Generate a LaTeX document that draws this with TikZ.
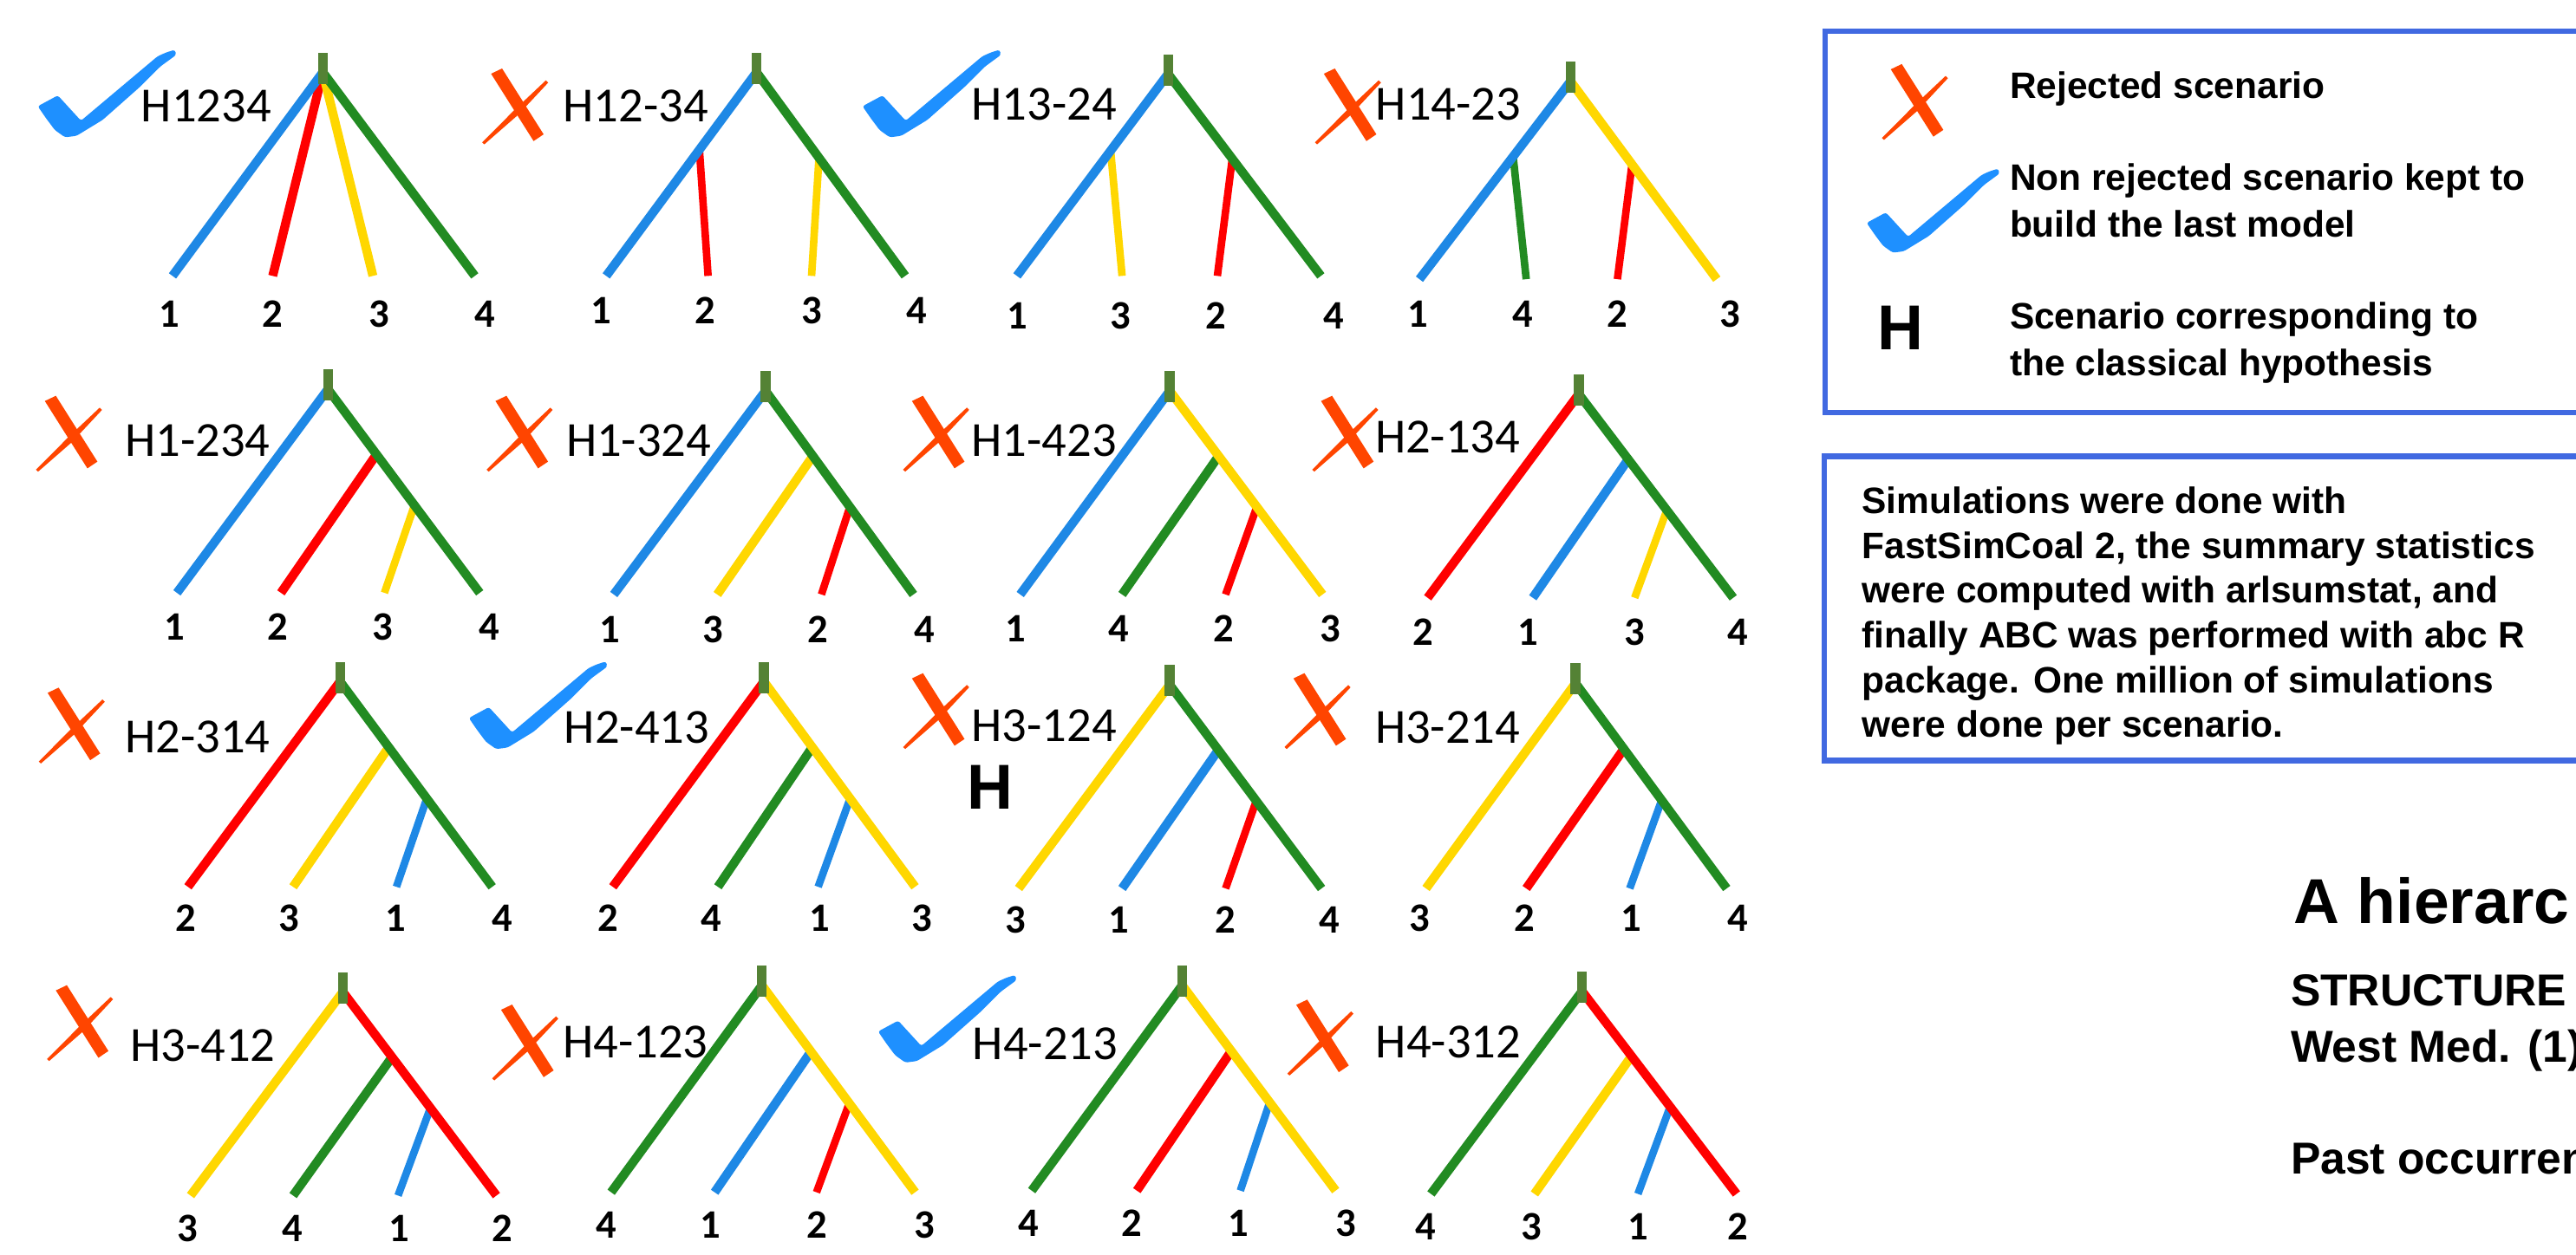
\documentclass[tikz,border=0pt]{standalone}
\usepackage{fontspec}
\usetikzlibrary{calc}
\newfontfamily\calfont{Carlito}
\newfontfamily\arfont{Liberation Sans}
\definecolor{lblue}{HTML}{1E88E5}
\definecolor{lred}{HTML}{FF0000}
\definecolor{lgold}{HTML}{FFD700}
\definecolor{lgreen}{HTML}{228B22}
\definecolor{stubc}{HTML}{548235}
\definecolor{xorange}{HTML}{FF4500}
\definecolor{checkblue}{HTML}{1E90FF}
\definecolor{boxblue}{HTML}{4169E1}
\tikzset{
  br/.style={line width=3.1pt},
  brin/.style={line width=2.6pt},
  scen/.style={font=\calfont\fontsize{17}{20}\selectfont, inner sep=0pt, anchor=base},
  leafnum/.style={font=\calfont\bfseries\fontsize{14}{16}\selectfont, inner sep=0pt, anchor=base},
  legtxt/.style={font=\arfont\bfseries\fontsize{12.75}{15}\selectfont, inner sep=0pt, anchor=base west},
  bigH/.style={font=\arfont\bfseries\fontsize{22}{26}\selectfont, inner sep=0pt, anchor=base},
  titletxt/.style={font=\arfont\bfseries\fontsize{22}{26}\selectfont, inner sep=0pt, anchor=base west},
  subtxt/.style={font=\arfont\bfseries\fontsize{15.5}{18}\selectfont, inner sep=0pt, anchor=base west},
  boxline/.style={draw=boxblue, line width=2pt},
  pics/xmark/.style={code={
    \fill[xorange] (5.4,3.2) -- (12.1,0) -- (37.4,40.1) -- (31.3,44.2) -- cycle;
    \fill[xorange] (38.8,7.2) -- (40.2,8.6) -- (21.8,28.3) -- (1.3,46.2) -- (0,45) -- (19.2,25.7) -- cycle;
  }},
  pics/checkmark/.style={code={
    \fill[checkblue, rounded corners=0.8pt] (83.4,0.3) -- (84.3,3.4) -- (74.6,10.5) -- (62.3,22.8)
      -- (39.5,43) -- (23.6,52.7) -- (16.6,53.6) -- (10.4,49.2) -- (5.1,42.1) -- (0,34.7)
      -- (12.2,28.1) -- (26.3,43.5) -- (72.9,4.3) -- (78,2) -- cycle;
  }},
}
\def\setcols#1/#2/#3/#4\relax{\def\colA{#1}\def\colB{#2}\def\colC{#3}\def\colD{#4}}
% caterpillar tree: prefix, root x, stub top, leaf y, xA, xB, xC, xD, colours
\def\cattree#1#2#3#4#5#6#7#8#9{%
  \setcols#9\relax
  \coordinate (#1r) at (#2,#3+12);
  \coordinate (#1a) at (#5,#4);
  \coordinate (#1b) at (#6,#4);
  \coordinate (#1c) at (#7,#4);
  \coordinate (#1d) at (#8,#4);
  \coordinate (#1j) at ($(#1r)!0.32!(#1d)$);
  \coordinate (#1k) at ($(#1r)!0.57!(#1d)$);
  \draw[br,draw=\colA] (#1r) -- (#1a);
  \draw[br,draw=\colB] (#1j) -- (#1b);
  \draw[brin,draw=\colC] (#1k) -- (#1c);
  \draw[br,draw=\colD] (#1r) -- (#1d);
  \fill[stubc] (#2-3,#3) rectangle (#2+3,#3+19);
}
% two-pair tree
\def\pairtree#1#2#3#4#5#6#7#8#9{%
  \setcols#9\relax
  \coordinate (#1r) at (#2,#3+12);
  \coordinate (#1a) at (#5,#4);
  \coordinate (#1b) at (#6,#4);
  \coordinate (#1c) at (#7,#4);
  \coordinate (#1d) at (#8,#4);
  \coordinate (#1j) at ($(#1r)!0.38!(#1a)$);
  \coordinate (#1k) at ($(#1r)!0.42!(#1d)$);
  \draw[brin,draw=\colB] (#1j) -- (#1b);
  \draw[brin,draw=\colC] (#1k) -- (#1c);
  \draw[br,draw=\colA] (#1r) -- (#1a);
  \draw[br,draw=\colD] (#1r) -- (#1d);
  \fill[stubc] (#2-3,#3) rectangle (#2+3,#3+19);
}
\def\leafnums#1#2#3{\foreach \lx/\ln in {#3} {\node[leafnum] (#1n\ln) at (\lx,#2) {\ln};}}
\begin{document}
\begin{tikzpicture}[x=0.02cm,y=-0.02cm]
\useasboundingbox (0,0) rectangle (1568,764);
\clip (0,0) rectangle (1568,764);
\fill[white] (0,0) rectangle (1568,764);

% ---- Row 1
\coordinate (t1r) at (196.5,44);
\coordinate (t1a) at (105,168);
\coordinate (t1b) at (166,168);
\coordinate (t1c) at (227,168);
\coordinate (t1d) at (289,168);
\draw[br,draw=lred] (t1r) -- (t1b);
\draw[br,draw=lgold] (t1r) -- (t1c);
\draw[br,draw=lblue] (t1r) -- (t1a);
\draw[br,draw=lgreen] (t1r) -- (t1d);
\fill[stubc] (193.5,32) rectangle (199.5,51);
\pairtree{t2}{460.5}{32}{168}{369}{431}{494}{551}{lblue/lred/lgold/lgreen}
\pairtree{t3}{711}{33}{168}{619}{683}{741}{804}{lblue/lgold/lred/lgreen}
\pairtree{t4}{956}{37.5}{170}{864}{929}{984.5}{1045}{lblue/lgreen/lred/lgold}

% ---- Row 2
\cattree{t5}{199.6}{225}{361}{107.7}{171}{234}{292}{lblue/lred/lgold/lgreen}
\cattree{t6}{466}{226}{362}{373.6}{436.6}{500}{556}{lblue/lgold/lred/lgreen}
\cattree{t7}{712}{226}{362}{621}{683}{746}{805}{lblue/lgreen/lred/lgold}
\cattree{t8}{961}{228}{364}{869}{933}{995}{1055}{lred/lblue/lgold/lgreen}

% ---- Row 3
\cattree{t9}{207}{403}{540}{114.4}{178.4}{241.3}{299.6}{lred/lgold/lblue/lgreen}
\cattree{t10}{465}{403}{540}{373}{437}{498}{557}{lred/lgreen/lblue/lgold}
\cattree{t11}{712}{405}{541}{620}{683}{746}{804.4}{lgold/lblue/lred/lgreen}
\cattree{t12}{959}{404}{541}{868}{929}{992}{1051}{lgold/lred/lblue/lgreen}

% ---- Row 4
\cattree{t13}{208.7}{592}{728}{116}{178.4}{242.3}{302.2}{lgold/lgreen/lblue/lred}
\cattree{t14}{463.8}{588}{726}{372}{435}{497}{557}{lgreen/lblue/lred/lgold}
\cattree{t15}{719.6}{588}{725}{628}{692}{755}{813}{lgreen/lred/lblue/lgold}
\cattree{t16}{963}{591.6}{727}{871}{934}{997}{1057}{lgreen/lgold/lblue/lred}

% ---- leaf numbers
\leafnums{t1}{199}{103/1,166/2,231/3,295/4}
\leafnums{t2}{197}{366/1,429/2,494/3,558/4}
\leafnums{t3}{200.5}{619/1,682/3,740/2,812/4}
\leafnums{t4}{199}{863/1,927/4,984.5/2,1053/3}
\leafnums{t5}{390}{106/1,169/2,233/3,298/4}
\leafnums{t6}{391.5}{371/1,434/3,498/2,563/4}
\leafnums{t7}{391}{618/1,681/4,745/2,810/3}
\leafnums{t8}{393}{866/2,930/1,995/3,1058/4}
\leafnums{t9}{567}{113/2,176/3,241/1,306/4}
\leafnums{t10}{567}{370/2,433/4,499/1,561/3}
\leafnums{t11}{568}{618/3,681/1,746/2,809/4}
\leafnums{t12}{567}{864/3,928/2,993/1,1058/4}
\leafnums{t13}{756}{114/3,178/4,243/1,306/2}
\leafnums{t14}{754}{369/4,432.5/1,497.5/2,563/3}
\leafnums{t15}{753}{626/4,689/2,754/1,819/3}
\leafnums{t16}{755}{868/4,932/3,997/1,1058/2}

% ---- scenario names
\node[scen] (s1) at (125.5,74.1) {H1234};
\node[scen] (s2) at (387,74.1) {H12-34};
\node[scen] (s3) at (635.5,73.3) {H13-24};
\node[scen] (s4) at (881.7,73.2) {H14-23};
\node[scen] (s5) at (120.3,277.8) {H1-234};
\node[scen] (s6) at (388.8,277.8) {H1-324};
\node[scen] (s7) at (635.5,277.8) {H1-423};
\node[scen] (s8) at (881.2,276) {H2-134};
\node[scen] (s9) at (120.3,458.1) {H2-314};
\node[scen] (s10) at (387.6,452.4) {H2-413};
\node[scen] (s11) at (635.5,451.5) {H3-124};
\node[scen] (s12) at (881.2,452.4) {H3-214};
\node[scen] (s13) at (123.4,646.3) {H3-412};
\node[scen] (s14) at (386.7,644.1) {H4-123};
\node[scen] (s15) at (636.3,645) {H4-213};
\node[scen] (s16) at (881.7,644.1) {H4-312};
\node[bigH] (hcl) at (602.8,492.6) {H};

% ---- marks
\pic (c1) at (23,30) {checkmark};
\pic (x2) at (293.5,41.7) {xmark};
\pic (c3) at (525,30) {checkmark};
\pic (x4) at (800.4,41.7) {xmark};
\pic (x5) at (21.9,241) {xmark};
\pic (x6) at (296.2,241) {xmark};
\pic (x7) at (549.7,241) {xmark};
\pic (x8) at (798.7,241) {xmark};
\pic (x9) at (23.6,418.7) {xmark};
\pic (c10) at (285.4,402.5) {checkmark};
\pic (x11) at (549.7,409.9) {xmark};
\pic (x12) at (781.9,409.9) {xmark};
\pic (x13) at (28.6,599.9) {xmark};
\pic (x14) at (299.6,611.7) {xmark};
\pic (c15) at (534.5,593.4) {checkmark};
\pic (x16) at (783.6,608.7) {xmark};

% ---- legend box
\draw[boxline] (1111,19) rectangle (1620,251.2);
\pic (lx) at (1145.5,39) {xmark};
\pic[scale=0.96] (lc) at (1136.2,102.4) {checkmark};
\node[bigH] (lH) at (1156.8,212.9) {H};
\node[legtxt] (lg1) at (1223,59.8) {Rejected scenario};
\node[legtxt] (lg2) at (1223,116.1) {Non rejected scenario kept to};
\node[legtxt] (lg3) at (1223,144.3) {build the last model};
\node[legtxt] (lg4) at (1223,200.5) {Scenario corresponding to};
\node[legtxt] (lg5) at (1223,228.7) {the classical hypothesis};

% ---- method box
\draw[boxline] (1110.4,277.8) rectangle (1620,463.2);
\node[legtxt] (m1) at (1133.1,312.9) {Simulations were done with};
\node[legtxt] (m2) at (1133.1,340.1) {FastSimCoal 2, the summary statistics};
\node[legtxt] (m3) at (1133.1,367.3) {were computed with arlsumstat, and};
\node[legtxt] (m4) at (1133.1,394.5) {finally ABC was performed with abc R};
\node[legtxt] (m5) at (1133.1,421.7) {package. One million of simulations};
\node[legtxt] (m6) at (1133.1,448.9) {were done per scenario.};

% ---- title area
\node[titletxt] (ti) at (1396,562.1) {A hierarc};
\node[subtxt] (st1) at (1394,612.6) {STRUCTURE};
\node[subtxt] (st2) at (1394,646.7) {West Med. (1)};
\node[subtxt] (st3) at (1394,714.9) {Past occurren};
\end{tikzpicture}
\end{document}
